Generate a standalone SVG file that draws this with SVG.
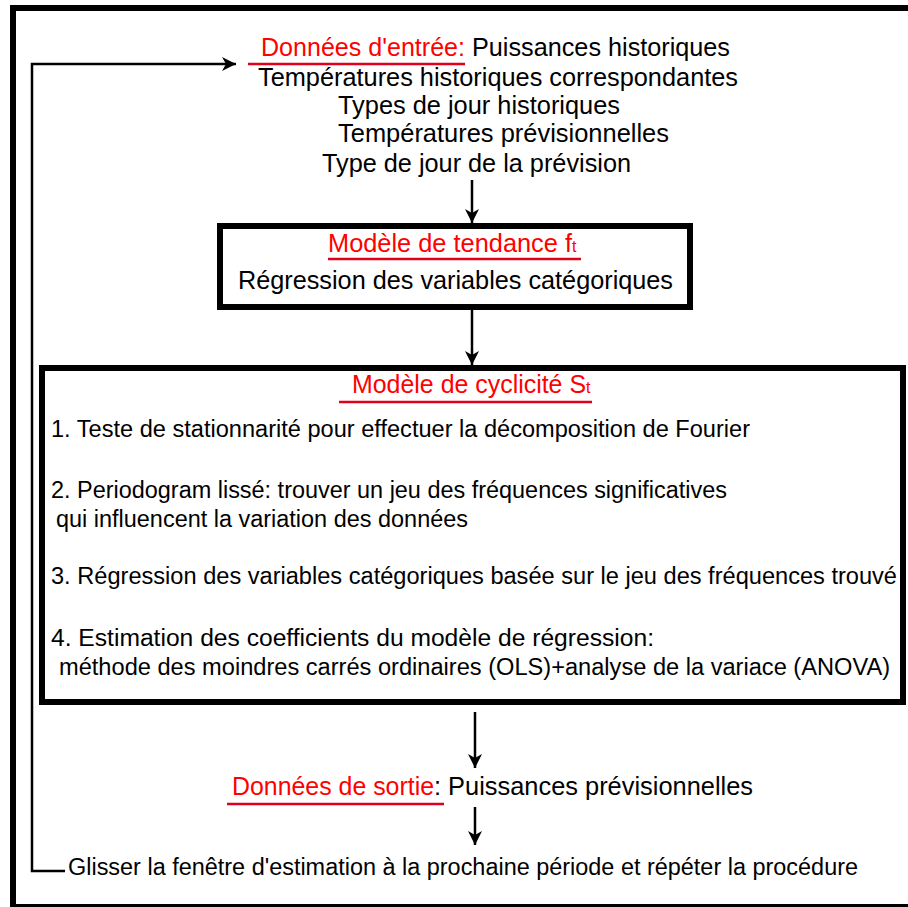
<svg xmlns="http://www.w3.org/2000/svg" width="908" height="907" viewBox="0 0 908 907">
<defs>
<style>
text{font-family:"Liberation Sans",Arial,sans-serif;font-size:25px;fill:#000}
.r{fill:#ff0000}
.sub{font-size:16px}
.it{font-size:23.5px}
.box{fill:none;stroke:#000;stroke-width:6}
.ul{stroke:#e0001b;stroke-width:2.5;fill:none}
.ln{stroke:#000;stroke-width:2.5;fill:none}
</style>
<marker id="ah" markerWidth="16" markerHeight="14" refX="14" refY="7" orient="auto" markerUnits="userSpaceOnUse">
<path d="M0,0 L14,7 L0,14 L4,7 z" fill="#000"/>
</marker>
</defs>
<rect x="0" y="0" width="908" height="907" fill="#fff"/>
<rect id="frame" x="13" y="8" width="910" height="899" class="box"/>

<g id="input">
<text class="r" x="261" y="56" textLength="204" lengthAdjust="spacingAndGlyphs">Données d'entrée:</text>
<text x="472" y="56" textLength="258" lengthAdjust="spacingAndGlyphs">Puissances historiques</text>
<line class="ul" x1="248" y1="64" x2="465" y2="64"/>
<text x="258" y="86" textLength="480" lengthAdjust="spacingAndGlyphs">Températures historiques correspondantes</text>
<text x="338" y="114" textLength="282" lengthAdjust="spacingAndGlyphs">Types de jour historiques</text>
<text x="338" y="142" textLength="331" lengthAdjust="spacingAndGlyphs">Températures prévisionnelles</text>
<text x="322" y="172" textLength="309" lengthAdjust="spacingAndGlyphs">Type de jour de la prévision</text>
</g>

<g id="trend">
<rect class="box" x="220" y="226" width="470" height="81"/>
<text class="r" x="328" y="252" textLength="244" lengthAdjust="spacingAndGlyphs">Modèle de tendance f</text>
<text class="r sub" x="572" y="252">t</text>
<line class="ul" x1="328" y1="259" x2="581" y2="259"/>
<text x="238" y="289" textLength="435" lengthAdjust="spacingAndGlyphs">Régression des variables catégoriques</text>
</g>

<g id="cyclic">
<rect class="box" x="42" y="368" width="861" height="334"/>
<text class="r" x="352" y="393" textLength="234" lengthAdjust="spacingAndGlyphs">Modèle de cyclicité S</text>
<text class="r sub" x="586" y="393">t</text>
<line class="ul" x1="339" y1="402" x2="592" y2="402"/>
<text class="it" x="51" y="437" textLength="699" lengthAdjust="spacingAndGlyphs">1. Teste de stationnarité pour effectuer la décomposition de Fourier</text>
<text class="it" x="51" y="498" textLength="676" lengthAdjust="spacingAndGlyphs">2. Periodogram lissé: trouver un jeu des fréquences significatives</text>
<text class="it" x="56" y="527" textLength="412" lengthAdjust="spacingAndGlyphs">qui influencent la variation des données</text>
<text class="it" x="51" y="584" textLength="846" lengthAdjust="spacingAndGlyphs">3. Régression des variables catégoriques basée sur le jeu des fréquences trouvé</text>
<text class="it" x="51" y="646" textLength="603" lengthAdjust="spacingAndGlyphs">4. Estimation des coefficients du modèle de régression:</text>
<text class="it" x="59" y="675" textLength="831" lengthAdjust="spacingAndGlyphs">méthode des moindres carrés ordinaires (OLS)+analyse de la variace (ANOVA)</text>
</g>

<g id="output">
<text class="r" x="232" y="795" textLength="202" lengthAdjust="spacingAndGlyphs">Données de sortie</text>
<text x="434" y="795" textLength="319" lengthAdjust="spacingAndGlyphs">: Puissances prévisionnelles</text>
<line class="ul" x1="227" y1="804" x2="444" y2="804"/>
</g>

<g id="repeat">
<text class="it" x="68" y="875" textLength="790" lengthAdjust="spacingAndGlyphs">Glisser la fenêtre d'estimation à la prochaine période et répéter la procédure</text>
</g>

<g id="connectors">
<line class="ln" x1="472" y1="180" x2="472" y2="223" marker-end="url(#ah)"/>
<line class="ln" x1="472" y1="310" x2="472" y2="365" marker-end="url(#ah)"/>
<line class="ln" x1="475" y1="712" x2="475" y2="768" marker-end="url(#ah)"/>
<line class="ln" x1="475" y1="807" x2="475" y2="845" marker-end="url(#ah)"/>
<polyline class="ln" points="65,871 32,871 32,64 236,64" marker-end="url(#ah)"/>
</g>
</svg>
